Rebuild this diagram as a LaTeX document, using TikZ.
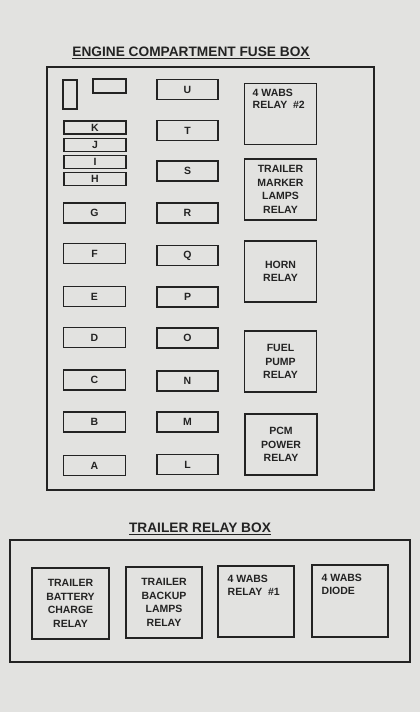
\documentclass[tikz,border=0pt]{standalone}
\usepackage{fontspec}
\setmainfont{Liberation Sans}
\definecolor{paper}{RGB}{226,226,224}
\definecolor{ink}{RGB}{35,35,35}
\begin{document}
\begin{tikzpicture}[x=1pt,y=-1pt,
    fuse/.style={draw=ink,line width=1.4pt,minimum width=61pt,minimum height=20pt,inner sep=0pt,
        font=\bfseries\fontsize{10.5}{12}\selectfont,text=ink},
    thinfuse/.style={fuse,minimum width=62pt,minimum height=13pt},
    relay/.style={draw=ink,line width=1.4pt,minimum width=72pt,minimum height=61pt,inner sep=0pt,
        align=center,font=\bfseries\fontsize{10.5}{13.5}\selectfont,text=ink},
    relaytext/.style={anchor=north west,inner sep=0pt,align=left,
        font=\bfseries\fontsize{10.5}{12.5}\selectfont,text=ink},
    boxtitle/.style={inner sep=0pt,font=\bfseries\fontsize{13.7}{16}\selectfont,text=ink}]

    \fill[paper] (0,0) rectangle (420,712);
    \useasboundingbox (0,0) rectangle (420,712);

    %draw engine compartment fuse box
    \node[boxtitle] (enginetitle) at (191,53) {\underline{ENGINE COMPARTMENT FUSE BOX}};
    \draw[ink,line width=1.4pt] (47,67) rectangle (374,490);

    %top left spare slots
    \node[fuse,minimum width=14pt,minimum height=29pt] (spareA) at (70,94.5) {};
    \node[fuse,minimum width=33pt,minimum height=14pt] (spareB) at (109.5,86) {};

    %left column
    \node[thinfuse] (K) at (95,127.5) {K};
    \node[thinfuse] (J) at (95,145)   {J};
    \node[thinfuse] (I) at (95,162)   {I};
    \node[thinfuse] (H) at (95,179)   {H};
    \node[fuse,minimum width=62pt] (G) at (94.5,213)   {G};
    \node[fuse,minimum width=62pt] (F) at (94.5,253.5) {F};
    \node[fuse,minimum width=62pt] (E) at (94.5,296.5) {E};
    \node[fuse,minimum width=62pt] (D) at (94.5,337.5) {D};
    \node[fuse,minimum width=62pt] (C) at (94.5,380)   {C};
    \node[fuse,minimum width=62pt] (B) at (94.5,422)   {B};
    \node[fuse,minimum width=62pt] (A) at (94.5,465.5) {A};

    %middle column
    \node[fuse] (U) at (187.5,89.5)  {U};
    \node[fuse] (T) at (187.5,130.5) {T};
    \node[fuse] (S) at (187.5,171)   {S};
    \node[fuse] (R) at (187.5,213)   {R};
    \node[fuse] (Q) at (187.5,255.5) {Q};
    \node[fuse] (P) at (187.5,297)   {P};
    \node[fuse] (O) at (187.5,338)   {O};
    \node[fuse] (N) at (187.5,381)   {N};
    \node[fuse] (M) at (187.5,422)   {M};
    \node[fuse] (L) at (187.5,464.5) {L};

    %right column relays
    \node[relay] (wabstwo) at (280.5,114) {};
    \node[relaytext] (wabstwotext) at (252.5,88.5) {4 WABS\\RELAY\ \ \#2};
    \node[relay] (marker) at (280.5,189.5) {TRAILER\\MARKER\\LAMPS\\RELAY};
    \node[relay] (horn) at (280.5,271.5) {HORN\\RELAY};
    \node[relay] (fuelpump) at (280.5,361.5) {FUEL\\PUMP\\RELAY};
    \node[relay] (pcm) at (281,444.5) {PCM\\POWER\\RELAY};

    %draw trailer relay box
    \node[boxtitle] (trailertitle) at (200,529) {\underline{TRAILER RELAY BOX}};
    \draw[ink,line width=1.4pt] (10,540) rectangle (410,662);

    \node[relay,minimum width=77pt,minimum height=71pt] (charge) at (70.5,603.5) {TRAILER\\BATTERY\\CHARGE\\RELAY};
    \node[relay,minimum width=76pt,minimum height=71pt] (backup) at (164,602.5) {TRAILER\\BACKUP\\LAMPS\\RELAY};
    \node[relay,minimum width=76pt,minimum height=71pt] (wabsone) at (256,601.5) {};
    \node[relaytext] (wabsonetext) at (227.5,575) {4 WABS\\RELAY\ \ \#1};
    \node[relay,minimum width=76pt,minimum height=72pt] (diode) at (350,601) {};
    \node[relaytext] (diodetext) at (321.5,574) {4 WABS\\DIODE};

\end{tikzpicture}
\end{document}
